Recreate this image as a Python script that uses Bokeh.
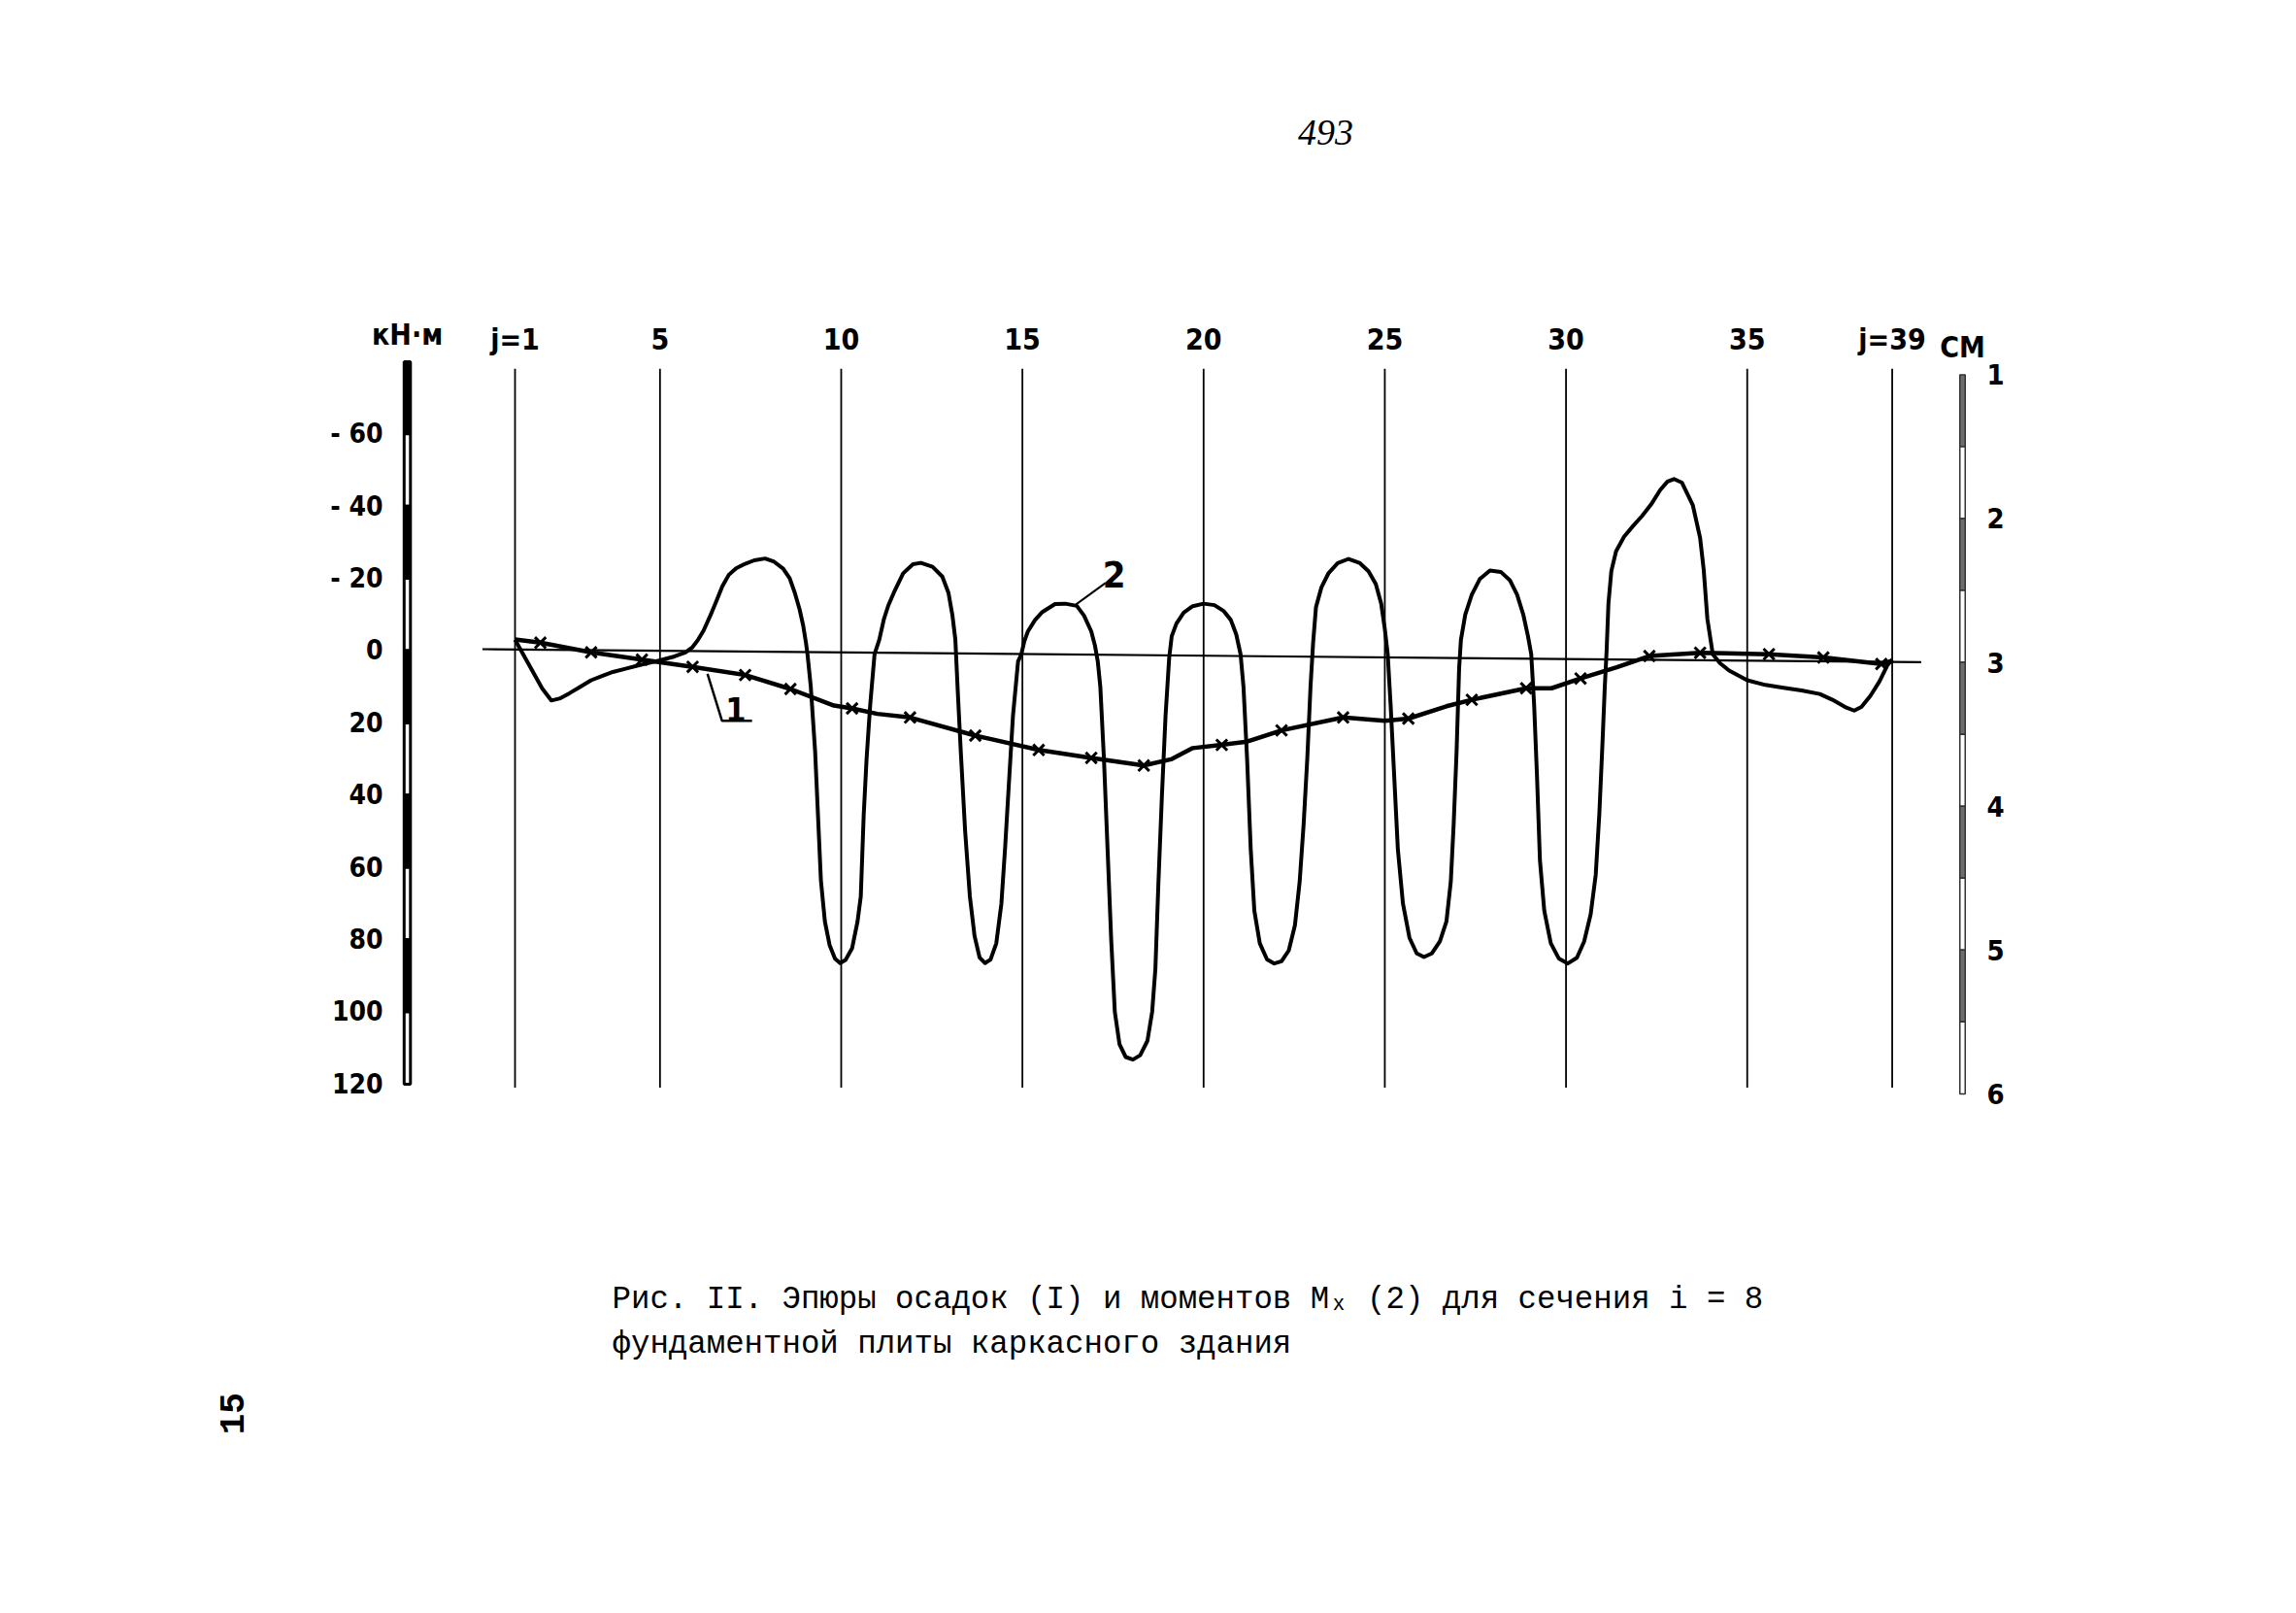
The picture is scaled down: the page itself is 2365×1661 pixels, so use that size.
from bokeh.plotting import figure
from bokeh.models import Range1d, LinearAxis, FixedTicker, Label
from bokeh.embed import file_html
from bokeh.resources import INLINE

# ---------------- data ----------------
# section lines (node index j) and their labels
J_TICKS = [1, 5, 10, 15, 20, 25, 30, 35, 39]
J_LABELS = ["j=1", "5", "10", "15", "20", "25", "30", "35", "j=39"]

# left scale: moments, kN*m (positive downward)
M_TICKS = [-60, -40, -20, 0, 20, 40, 60, 80, 100, 120]
M_LABELS = ["- 60", "- 40", "- 20", "0", "20", "40", "60", "80", "100", "120"]

# right scale: settlements, cm
CM_TICKS = [1, 2, 3, 4, 5, 6]

# curve 2: bending moment Mx along the section i = 8
moment_j = [1.0, 1.25, 1.5, 1.75, 2.0, 2.25, 2.5, 2.8, 3.1, 3.4, 3.7, 4.05, 4.4, 4.7, 5.0, 5.4, 5.7, 5.9,
            6.05, 6.2, 6.38, 6.55, 6.72, 6.9, 7.1, 7.3, 7.6, 7.9, 8.15, 8.4, 8.58, 8.72, 8.85, 8.95, 9.03, 9.07,
            9.16, 9.28, 9.36, 9.44, 9.55, 9.68, 9.83, 9.97, 10.12, 10.3, 10.45, 10.54, 10.62, 10.7, 10.8, 10.92,
            11.05, 11.18, 11.3, 11.45, 11.71, 11.98, 12.2, 12.52, 12.79, 12.96, 13.07, 13.15,
            13.22, 13.3, 13.42, 13.55, 13.68, 13.82, 13.97, 14.12, 14.28, 14.42, 14.52, 14.62, 14.74, 14.88,
            14.97, 15.05, 15.15, 15.35, 15.55, 15.9, 16.18, 16.5, 16.7, 16.9, 17.0, 17.08,
            17.15, 17.25, 17.35, 17.45, 17.55, 17.68, 17.85, 18.05, 18.25, 18.45, 18.58, 18.67, 18.75,
            18.85, 18.95, 19.05,
            19.12, 19.25, 19.45, 19.7, 20.0, 20.3, 20.55, 20.75, 20.9, 21.02,
            21.1, 21.2, 21.3, 21.4, 21.55, 21.75, 21.95, 22.15, 22.35, 22.52, 22.65, 22.76, 22.86, 22.95, 23.02,
            23.1, 23.25, 23.45, 23.7, 24.0, 24.3, 24.55, 24.75, 24.9, 25.0, 25.08,
            25.16, 25.26, 25.36, 25.5, 25.68, 25.88, 26.08, 26.3, 26.52, 26.7, 26.82, 26.9, 26.98, 27.05,
            27.1, 27.22, 27.4, 27.62, 27.9, 28.2, 28.45, 28.65, 28.82, 28.95, 29.04,
            29.12, 29.2, 29.28, 29.4, 29.58, 29.8, 30.05, 30.3, 30.5, 30.68, 30.82, 30.92, 31.0, 31.07, 31.12,
            31.17, 31.25, 31.38, 31.6, 31.85, 32.1, 32.35, 32.6, 32.8, 32.98, 33.2, 33.5, 33.7, 33.8, 33.9, 34.05,
            34.25, 34.5, 35.0, 35.5, 36.0, 36.5, 37.0, 37.35, 37.7, 37.95, 38.15, 38.4, 38.65, 38.87, 39.0]
moment_kNm = [-3.0, 1.5, 6.0, 10.5, 13.8, 13.2, 11.8, 10.0, 8.2, 7.0, 5.9, 5.0, 4.1, 3.4, 2.7, 1.6, 0.5, -1.0,
              -3.0, -5.5, -9.5, -13.6, -17.8, -21.0, -22.8, -23.8, -25.0, -25.5, -24.6, -22.7, -20.0, -16.0, -11.5, -7.0, -2.0, 1.0,
              9.9, 27.8, 45.7, 63.6, 75.0, 81.5, 85.3, 86.5, 85.6, 82.4, 75.0, 68.1, 45.7, 30.0, 15.0, 1.0,
              -3.0, -8.8, -12.5, -16.0, -21.4, -23.9, -24.3, -23.2, -20.5, -16.0, -9.7, -3.0,
              12.0, 28.0, 50.0, 68.0, 79.0, 85.0, 86.5, 85.5, 81.0, 70.0, 55.0, 38.0, 18.0, 3.0,
              1.0, -2.5, -5.3, -8.5, -10.7, -12.9, -13.0, -12.4, -9.7, -5.3, -1.5, 3.0,
              10.0, 30.0, 55.0, 80.0, 100.0, 109.0, 112.5, 113.2, 112.0, 108.0, 100.0, 88.0, 65.0,
              40.0, 18.0, 2.0,
              -4.0, -7.5, -10.5, -12.3, -13.0, -12.6, -11.0, -8.5, -4.5, 1.0,
              10.0, 30.0, 55.0, 72.0, 81.0, 85.5, 86.6, 86.0, 83.0, 76.0, 64.0, 48.0, 30.0, 10.0, -2.0,
              -12.0, -17.5, -21.5, -24.2, -25.4, -24.3, -22.0, -18.5, -13.0, -6.0, 1.0,
              15.0, 35.0, 55.0, 70.0, 79.5, 83.8, 84.8, 83.8, 80.5, 75.0, 64.0, 48.0, 28.0, 5.0,
              -3.0, -10.0, -15.5, -19.8, -22.2, -21.8, -19.5, -15.5, -10.0, -4.0, 1.0,
              15.0, 35.0, 58.0, 72.0, 81.0, 85.2, 86.6, 85.0, 80.5, 73.0, 62.0, 45.0, 27.0, 10.0, 0.0,
              -13.0, -22.0, -27.5, -31.5, -34.5, -37.3, -40.5, -44.5, -46.8, -47.5, -46.5, -40.2, -31.2, -22.3, -8.8, 1.0,
              3.5, 5.5, 8.2, 9.5, 10.3, 11.0, 12.0, 13.6, 15.6, 16.6, 15.6, 12.5, 8.5, 4.0, 2.5]

# curve 1: settlement of the slab, cm
settle_j = [1.0, 1.7, 3.1, 4.5, 5.9, 7.35, 8.6, 9.8, 10.3, 11.0, 11.9, 13.7, 15.45, 16.9,
            18.35, 19.1, 19.7, 20.5, 21.2, 22.15, 23.85, 25.0, 25.65, 26.7, 27.4, 28.9,
            29.6, 30.4, 31.4, 32.3, 33.7, 35.6, 37.1, 38.7, 39.0]
settle_cm = [2.840, 2.863, 2.930, 2.981, 3.031, 3.088, 3.185, 3.300, 3.320, 3.358, 3.383,
             3.509, 3.609, 3.664, 3.717, 3.674, 3.596, 3.574, 3.551, 3.473, 3.383, 3.406,
             3.391, 3.305, 3.260, 3.180, 3.180, 3.112, 3.034, 2.956, 2.933, 2.943, 2.966,
             3.011, 2.989]
# crosses on curve 1
mark_j = [1.7, 3.1, 4.5, 5.9, 7.35, 8.6, 10.3, 11.9, 13.7, 15.45, 16.9, 18.35, 20.5,
          22.15, 23.85, 25.65, 27.4, 28.9, 30.4, 32.3, 33.7, 35.6, 37.1, 38.7]
mark_cm = [2.863, 2.930, 2.981, 3.031, 3.088, 3.185, 3.320, 3.383, 3.509, 3.609, 3.664,
           3.717, 3.574, 3.473, 3.383, 3.391, 3.260, 3.180, 3.112, 2.956, 2.933, 2.943,
           2.966, 3.011]

# zero line of the scan (slightly skewed)
base_j = [0.1, 39.8]
base_kNm = [-0.4, 3.2]

# ---------------- figure ----------------
# the plotting frame covers the whole sheet; axes are pinned at fixed data locations
W, H = 2349, 1645
p = figure(width=W, height=H, output_backend="svg", toolbar_location=None,
           x_range=Range1d(-13.198, 49.727), y_range=Range1d(262.23, -179.97),
           x_axis_type=None, y_axis_type=None,
           min_border_left=0, min_border_right=0, min_border_top=0, min_border_bottom=0)
p.extra_y_ranges = {"cm": Range1d(9.5051, -1.6023)}
p.outline_line_color = None
p.xgrid.visible = False
p.ygrid.visible = False
p.background_fill_color = "white"
p.border_fill_color = "white"

TICK_FONT = "DejaVu Sans Condensed"
AX_TOP_M = -80.5      # where the j labels stand
AX_LEFT_J = -2.268    # left scale position
AX_RIGHT_J = 41.182   # right scale position

def style_axis(ax, size, weight, standoff):
    ax.axis_line_color = None
    ax.major_tick_line_color = None
    ax.minor_tick_line_color = None
    ax.major_tick_in = 0
    ax.major_tick_out = 0
    ax.minor_tick_in = 0
    ax.minor_tick_out = 0
    ax.major_label_text_font = TICK_FONT
    ax.major_label_text_font_size = size
    ax.major_label_text_font_style = weight
    ax.major_label_text_color = "black"
    ax.major_label_standoff = standoff

xa = LinearAxis(ticker=FixedTicker(ticks=J_TICKS), fixed_location=AX_TOP_M)
xa.major_label_overrides = {t: l for t, l in zip(J_TICKS, J_LABELS)}
style_axis(xa, "30px", "bold", 4)
p.add_layout(xa, "above")

ya = LinearAxis(ticker=FixedTicker(ticks=M_TICKS), fixed_location=AX_LEFT_J)
ya.major_label_overrides = {t: l for t, l in zip(M_TICKS, M_LABELS)}
style_axis(ya, "28px", "bold", 14)
p.add_layout(ya, "left")

ra = LinearAxis(y_range_name="cm", ticker=FixedTicker(ticks=CM_TICKS), fixed_location=AX_RIGHT_J)
style_axis(ra, "29px", "bold", 16)
p.add_layout(ra, "right")

# ---- scale bars drawn beside the tick labels ----
BAR_LEFT_J = -1.973
BAR_RIGHT_J = 40.941
step_m = M_TICKS[1] - M_TICKS[0]
m_edges = [M_TICKS[0] - step_m] + M_TICKS
m_cent = [(a + b) / 2 for a, b in zip(m_edges[:-1], m_edges[1:])]
m_fill = ["black" if k % 2 == 0 else "white" for k in range(len(m_cent))]
p.rect(x=[BAR_LEFT_J] * len(m_cent), y=m_cent, width=6.5, height=step_m,
       width_units="screen", fill_color=m_fill, line_color="black", line_width=3)

cm_edges = []
for a, b in zip(CM_TICKS[:-1], CM_TICKS[1:]):
    cm_edges += [a, (a + b) / 2]
cm_edges.append(CM_TICKS[-1])
cm_cent = [(a + b) / 2 for a, b in zip(cm_edges[:-1], cm_edges[1:])]
cm_fill = ["#6e6e6e" if k % 2 == 0 else "white" for k in range(len(cm_cent))]
p.rect(x=[BAR_RIGHT_J] * len(cm_cent), y=cm_cent, width=5.5, height=0.5,
       width_units="screen", fill_color=cm_fill, line_color="#333333", line_width=1.5,
       y_range_name="cm")

# ---- section lines and zero line ----
p.segment(x0=J_TICKS, x1=J_TICKS, y0=[-78] * len(J_TICKS), y1=[121] * len(J_TICKS),
          line_color="black", line_width=1.8)
p.line(base_j, base_kNm, line_color="black", line_width=2.2)

# ---- curves ----
p.line(moment_j, moment_kNm, line_color="black", line_width=4, line_join="round")
p.line(settle_j, settle_cm, y_range_name="cm", line_color="black", line_width=4.5,
       line_join="round")
p.scatter(mark_j, mark_cm, y_range_name="cm", marker="x", size=16, line_color="black",
          line_width=3)

# ---- curve callouts ----
p.line([6.31, 6.71, 7.54], [6.4, 19.4, 19.4], line_color="black", line_width=2.5)
p.add_layout(Label(x=7.09, y=19.6, text="1", text_font=TICK_FONT, text_font_style="bold",
                   text_font_size="34px", text_color="black", text_align="center",
                   text_baseline="bottom"))
p.line([16.48, 17.29], [-12.8, -18.7], line_color="black", line_width=2)
p.add_layout(Label(x=17.53, y=-17.4, text="2", text_font=TICK_FONT, text_font_style="bold",
                   text_font_size="38px", text_color="black", text_align="center",
                   text_baseline="bottom"))

# ---- scale titles ----
p.add_layout(Label(x=-1.97, y=-87.5, text="кН·м", text_font=TICK_FONT,
                   text_font_style="bold", text_font_size="30px", text_color="black",
                   text_align="center", text_baseline="middle"))
p.add_layout(Label(x=40.94, y=-84.0, text="СМ", text_font=TICK_FONT,
                   text_font_style="bold", text_font_size="30px", text_color="black",
                   text_align="center", text_baseline="middle"))

# ---- page texts ----
CAP_FONT = "Liberation Mono"
p.add_layout(Label(x=3.68, y=179.7,
                   text="Рис. II. Эпюры осадок (I) и моментов Mₓ (2) для сечения i = 8",
                   text_font=CAP_FONT, text_font_size="32.4px", text_color="black",
                   text_align="left", text_baseline="middle"))
p.add_layout(Label(x=3.68, y=192.1, text="фундаментной плиты каркасного здания",
                   text_font=CAP_FONT, text_font_size="32.4px", text_color="black",
                   text_align="left", text_baseline="middle"))
p.add_layout(Label(x=23.37, y=-143.4, text="493", text_font="Liberation Serif",
                   text_font_style="italic", text_font_size="38px", text_color="black",
                   text_align="center", text_baseline="middle"))
p.add_layout(Label(x=-6.82, y=211.2, text="15", text_font=CAP_FONT,
                   text_font_style="bold", text_font_size="36px", text_color="black",
                   text_align="center", text_baseline="middle", angle=1.5708))

open("out.html", "w").write(file_html(p, INLINE))
